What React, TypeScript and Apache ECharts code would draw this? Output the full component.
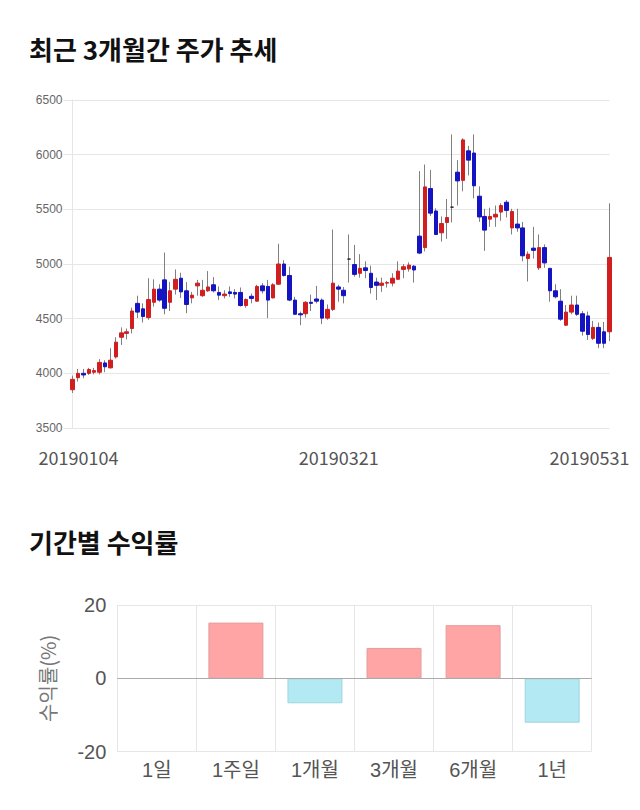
import React, { useEffect, useRef } from 'react';
import * as echarts from 'echarts';

const dates = [
  '20190104', '20190107', '20190108', '20190109', '20190110', '20190111', '20190114', '20190115', '20190116', '20190117',
  '20190118', '20190121', '20190122', '20190123', '20190124', '20190125', '20190128', '20190129', '20190130', '20190131',
  '20190201', '20190207', '20190208', '20190211', '20190212', '20190213', '20190214', '20190215', '20190218', '20190219',
  '20190220', '20190221', '20190222', '20190225', '20190226', '20190227', '20190228', '20190304', '20190305', '20190306',
  '20190307', '20190308', '20190311', '20190312', '20190313', '20190314', '20190315', '20190318', '20190319', '20190320',
  '20190321', '20190322', '20190325', '20190326', '20190327', '20190328', '20190329', '20190401', '20190402', '20190403',
  '20190404', '20190405', '20190408', '20190409', '20190410', '20190411', '20190412', '20190415', '20190416', '20190417',
  '20190418', '20190419', '20190422', '20190423', '20190424', '20190425', '20190426', '20190429', '20190430', '20190502',
  '20190503', '20190507', '20190508', '20190509', '20190510', '20190513', '20190514', '20190515', '20190516', '20190517',
  '20190520', '20190521', '20190522', '20190523', '20190524', '20190527', '20190528', '20190529', '20190530', '20190531',
];

const opens = [
  3850, 3960, 4000, 4000, 4010, 4010, 4095, 4050, 4150, 4330,
  4365, 4410, 4640, 4590, 4510, 4650, 4770, 4855, 4650, 4770,
  4870, 4755, 4690, 4800, 4710, 4755, 4810, 4740, 4710, 4745,
  4740, 4740, 4620, 4705, 4660, 4800, 4795, 4690, 4815, 5000,
  4895, 4670, 4545, 4545, 4650, 4680, 4670, 4505, 4585, 4790,
  4760, 5045, 4995, 4915, 4965, 4915, 4835, 4805, 4825, 4825,
  4860, 4950, 4955, 4980, 5255, 5150, 5690, 5485, 5285, 5380,
  5520, 5840, 5765, 6035, 6015, 5620, 5435, 5410, 5430, 5475,
  5565, 5330, 5365, 5330, 5050, 5145, 4965, 5150, 4960, 4755,
  4660, 4440, 4560, 4625, 4545, 4525, 4320, 4420, 4380, 4380,
];

const closes = [
  3945, 4000, 3985, 4035, 4025, 4100, 4060, 4120, 4285, 4370,
  4380, 4570, 4560, 4520, 4675, 4770, 4670, 4595, 4755, 4860,
  4745, 4630, 4715, 4825, 4760, 4790, 4755, 4715, 4725, 4730,
  4725, 4620, 4675, 4685, 4795, 4755, 4670, 4810, 5000, 4895,
  4670, 4540, 4535, 4650, 4640, 4660, 4505, 4585, 4825, 4770,
  4710, 5045, 4905, 4960, 4940, 4785, 4805, 4825, 4830, 4870,
  4935, 4975, 4990, 4945, 5100, 5705, 5465, 5270, 5370, 5425,
  5520, 5760, 6135, 5950, 5715, 5430, 5310, 5435, 5455, 5535,
  5490, 5480, 5330, 5075, 5090, 5125, 5150, 5010, 4755, 4700,
  4495, 4560, 4625, 4540, 4385, 4355, 4420, 4275, 4275, 5060,
];

const lows = [
  3820, 3925, 3955, 3985, 3990, 3990, 4010, 4045, 4135, 4260,
  4310, 4365, 4505, 4465, 4490, 4610, 4655, 4540, 4570, 4720,
  4690, 4550, 4640, 4710, 4700, 4745, 4740, 4670, 4685, 4700,
  4685, 4610, 4600, 4640, 4655, 4730, 4505, 4685, 4810, 4885,
  4660, 4535, 4440, 4510, 4570, 4640, 4450, 4490, 4570, 4655,
  4640, 4830, 4885, 4875, 4870, 4730, 4670, 4745, 4785, 4795,
  4855, 4870, 4930, 4830, 5090, 5115, 5440, 5265, 5205, 5230,
  5380, 5535, 5665, 5810, 5600, 5385, 5120, 5340, 5340, 5395,
  5425, 5270, 5295, 5025, 4840, 5050, 4945, 4965, 4655, 4685,
  4480, 4435, 4540, 4525, 4345, 4305, 4305, 4230, 4230, 4295,
];

const highs = [
  3980, 4040, 4040, 4050, 4050, 4130, 4120, 4230, 4330, 4420,
  4410, 4600, 4710, 4640, 4870, 4860, 4815, 5105, 4835, 4950,
  4920, 4835, 4745, 4855, 4855, 4935, 4880, 4795, 4760, 4795,
  4770, 4785, 4685, 4730, 4810, 4825, 4855, 4825, 5185, 5035,
  4975, 4700, 4565, 4660, 4720, 4800, 4685, 4630, 5315, 4810,
  4790, 5270, 5175, 5090, 5025, 4985, 4875, 4875, 4845, 4915,
  5025, 5000, 5015, 4990, 5850, 5910, 5860, 5510, 5435, 5595,
  6185, 5950, 6150, 6080, 6185, 5710, 5505, 5515, 5535, 5555,
  5585, 5505, 5505, 5385, 5115, 5340, 5270, 5180, 4965, 4815,
  4770, 4625, 4710, 4710, 4570, 4565, 4480, 4465, 4470, 5555,
];

const shownDateIdx = [0, 50, 99];

const periods = ['1일', '1주일', '1개월', '3개월', '6개월', '1년'];
const returns = [0, 15.2, -6.8, 8.3, 14.5, -12.1];

const UP = '#d11f1f';
const DOWN = '#1414c2';
const WICK = '#808080';
const GRID = '#e6e6e6';
const KR = "'Noto Sans CJK KR', 'Noto Sans', sans-serif";
const LAT = "'Liberation Sans', 'Noto Sans CJK KR', sans-serif";

export default function App() {
  const ref = useRef<HTMLDivElement>(null);
  useEffect(() => {
    const chart = echarts.init(ref.current as HTMLDivElement, undefined, { renderer: 'svg' });
    const wickData = dates.map((_, i) => [opens[i], closes[i], lows[i], highs[i]]);
    const bodyData = dates.map((_, i) => [
      opens[i],
      closes[i],
      Math.min(opens[i], closes[i]),
      Math.max(opens[i], closes[i]),
    ]);
    const lastIdx = dates.length - 1;
    chart.setOption({
      animation: false,
      backgroundColor: '#ffffff',
      title: [
        {
          text: '최근 3개월간 주가 추세',
          left: 29,
          top: 35,
          padding: 0,
          textStyle: { fontSize: 26, fontWeight: 'bold', color: '#111', fontFamily: KR },
        },
        {
          text: '기간별 수익률',
          left: 29,
          top: 528,
          padding: 0,
          textStyle: { fontSize: 26, fontWeight: 'bold', color: '#111', fontFamily: KR },
        },
      ],
      grid: [
        { left: 72.5, right: 30.5, top: 100, bottom: 382 },
        { left: 117.3, right: 48.3, top: 605, bottom: 58.3 },
      ],
      xAxis: [
        {
          type: 'category',
          gridIndex: 0,
          data: dates,
          boundaryGap: false,
          axisLine: { show: false },
          axisTick: { show: false },
          splitLine: { show: false },
          axisLabel: {
            interval: (i: number) => shownDateIdx.indexOf(i) >= 0,
            margin: 20,
            fontSize: 18,
            color: '#555',
            fontFamily: KR,
            formatter: (v: string, i: number) =>
              i === 0 ? `{a|${v}}` : i === lastIdx ? `{c|${v}}` : `{b|${v}}`,
            rich: {
              a: { fontSize: 18, color: '#555', fontFamily: KR, padding: [0, 0, 0, 12] },
              b: { fontSize: 18, color: '#555', fontFamily: KR, padding: [0, 10, 0, 0] },
              c: { fontSize: 18, color: '#555', fontFamily: KR, padding: [0, 40, 0, 0] },
            },
          },
        },
        {
          type: 'category',
          gridIndex: 1,
          data: periods,
          axisLine: { show: false },
          axisTick: {
            show: true,
            length: 10,
            lineStyle: { color: GRID },
            interval: (i: number) => i > 0,
          },
          splitLine: { show: true, lineStyle: { color: GRID } },
          axisLabel: { fontSize: 20, color: '#555', margin: 8, fontFamily: LAT },
        },
      ],
      yAxis: [
        {
          type: 'value',
          gridIndex: 0,
          min: 3500,
          max: 6500,
          interval: 500,
          axisLine: { show: true, lineStyle: { color: GRID } },
          axisTick: { show: true, length: 9, lineStyle: { color: GRID } },
          splitLine: { show: true, lineStyle: { color: GRID } },
          axisLabel: {
            fontSize: 12,
            color: '#666',
            margin: 10,
            fontFamily: LAT,
            formatter: (v: number) => String(v),
          },
        },
        {
          type: 'value',
          gridIndex: 1,
          min: -20,
          max: 20,
          interval: 20,
          name: '수익률(%)',
          nameLocation: 'middle',
          nameGap: 60,
          nameRotate: 90,
          nameTextStyle: { fontSize: 20, color: '#777', fontFamily: KR },
          axisLine: { show: false },
          axisTick: { show: false },
          splitLine: { show: true, lineStyle: { color: GRID } },
          axisLabel: { fontSize: 20, color: '#555', margin: 11, fontFamily: LAT },
        },
      ],
      series: [
        {
          type: 'candlestick',
          xAxisIndex: 0,
          yAxisIndex: 0,
          data: wickData,
          barWidth: 1,
          itemStyle: {
            color: WICK,
            color0: WICK,
            borderColor: WICK,
            borderColor0: WICK,
            borderColorDoji: WICK,
            borderWidth: 1,
          },
        },
        {
          type: 'candlestick',
          xAxisIndex: 0,
          yAxisIndex: 0,
          data: bodyData,
          barWidth: 4,
          itemStyle: {
            color: UP,
            color0: DOWN,
            borderColor: UP,
            borderColor0: DOWN,
            borderColorDoji: '#222',
            borderWidth: 1,
          },
        },
        {
          type: 'bar',
          xAxisIndex: 1,
          yAxisIndex: 1,
          barWidth: 55,
          data: returns.map((v) => ({
            value: v,
            itemStyle:
              v > 0
                ? { color: '#ffa5a5', borderColor: '#e59c9c', borderWidth: 1 }
                : v < 0
                ? { color: '#b3e9f3', borderColor: '#9fd5df', borderWidth: 1 }
                : { color: 'rgba(0,0,0,0)', borderWidth: 0 },
          })),
          markLine: {
            silent: true,
            symbol: ['none', 'none'],
            label: { show: false },
            lineStyle: { color: '#aaaaaa', type: 'solid', width: 1 },
            data: [{ yAxis: 0 }],
          },
        },
      ],
    });
    return () => chart.dispose();
  }, []);
  return (
    <div
      ref={ref}
      style={{ position: 'fixed', left: 0, top: 0, width: 640, height: 810, background: '#fff' }}
    />
  );
}
